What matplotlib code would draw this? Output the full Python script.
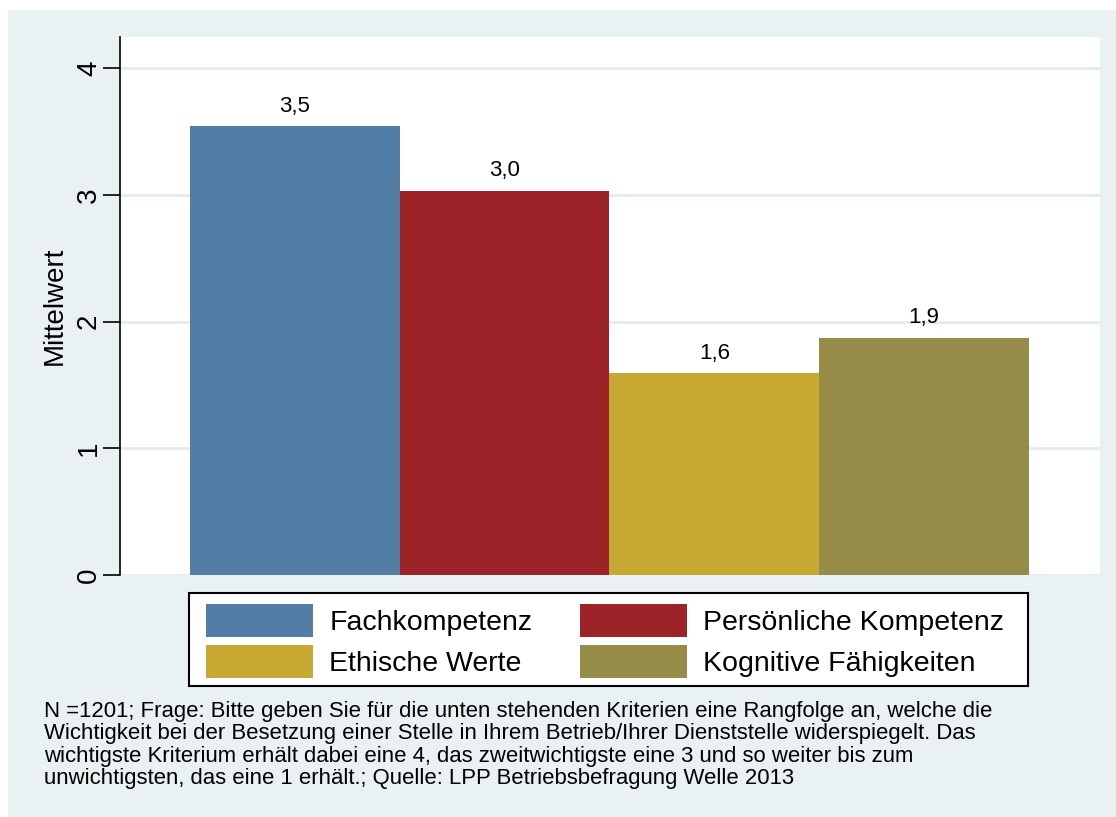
import matplotlib
matplotlib.use("Agg")
import matplotlib.pyplot as plt
from matplotlib.patches import Rectangle

plt.rcParams['font.family'] = ['Liberation Sans', 'DejaVu Sans']

# data
categories = ["Fachkompetenz", "Persönliche Kompetenz", "Ethische Werte", "Kognitive Fähigkeiten"]
means = [3.54, 3.03, 1.59, 1.87]
colors = ["#527ea6", "#9c2428", "#c7a832", "#968c48"]
yticks = [0, 1, 2, 3, 4]
note = ("N =1201; Frage: Bitte geben Sie für die unten stehenden Kriterien eine Rangfolge an, welche die\n"
        "Wichtigkeit bei der Besetzung einer Stelle in Ihrem Betrieb/Ihrer Dienststelle widerspiegelt. Das\n"
        "wichtigste Kriterium erhält dabei eine 4, das zweitwichtigste eine 3 und so weiter bis zum\n"
        "unwichtigsten, das eine 1 erhält.; Quelle: LPP Betriebsbefragung Welle 2013")

W, H = 1116, 817
fig = plt.figure(figsize=(W / 100, H / 100), dpi=100, facecolor="white")

# light panel behind everything (starts a little below the top edge)
panel_col = "#e9f1f3"
fig.patches.append(Rectangle((8 / W, 0), 1 - 8 / W, 1 - 10 / H, transform=fig.transFigure,
                             facecolor=panel_col, edgecolor="none", zorder=-5))

ax = fig.add_axes([120 / W, (H - 575) / H, (1100 - 120) / W, (575 - 37) / H])
ax.set_facecolor("white")

x = list(range(len(categories)))
bars = ax.bar(x, means, width=1.0, color=colors, linewidth=0, zorder=2)
ax.bar_label(bars, labels=[f"{v:.1f}".replace(".", ",") for v in means],
             padding=7, fontsize=16)

ax.set_xlim(-0.835, 3.84)
ax.set_ylim(0, 4.245)
ax.set_yticks(yticks)
ax.set_yticklabels([str(t) for t in yticks], rotation=90, va="center", fontsize=20)
ax.set_xticks([])
ax.tick_params(axis="y", length=12, width=1.2, pad=1)
ax.yaxis.grid(True, color="#e3ecef", linewidth=2, zorder=0)
ax.set_axisbelow(True)
for s in ["top", "right", "bottom"]:
    ax.spines[s].set_visible(False)
ax.spines["left"].set_linewidth(1.2)
ax.set_ylabel("Mittelwert", fontsize=20, labelpad=6)

# legend frame drawn separately so the inner spacing can match
fig.patches.append(Rectangle((189 / W, 1 - 686 / H), (1028 - 189) / W, 93 / H,
                             transform=fig.transFigure, facecolor="white",
                             edgecolor="black", linewidth=1.5, zorder=1))

# legend, filled column-wise, so reorder to get two rows
order = [0, 2, 1, 3]
leg = fig.legend([bars[i] for i in order], [categories[i] for i in order],
                 ncol=2, loc="upper left", bbox_to_anchor=(206 / W, 1 - 604 / H),
                 fontsize=20.5, handlelength=3.75, handleheight=1.42,
                 handletextpad=0.58, columnspacing=1.68, labelspacing=0.27,
                 borderpad=0, borderaxespad=0, frameon=False)

fig.text(44 / W, 1 - 701 / H, note, fontsize=15.9, va="top", ha="left", linespacing=1.09)

fig.savefig("out.png", dpi=100, facecolor=fig.get_facecolor())
